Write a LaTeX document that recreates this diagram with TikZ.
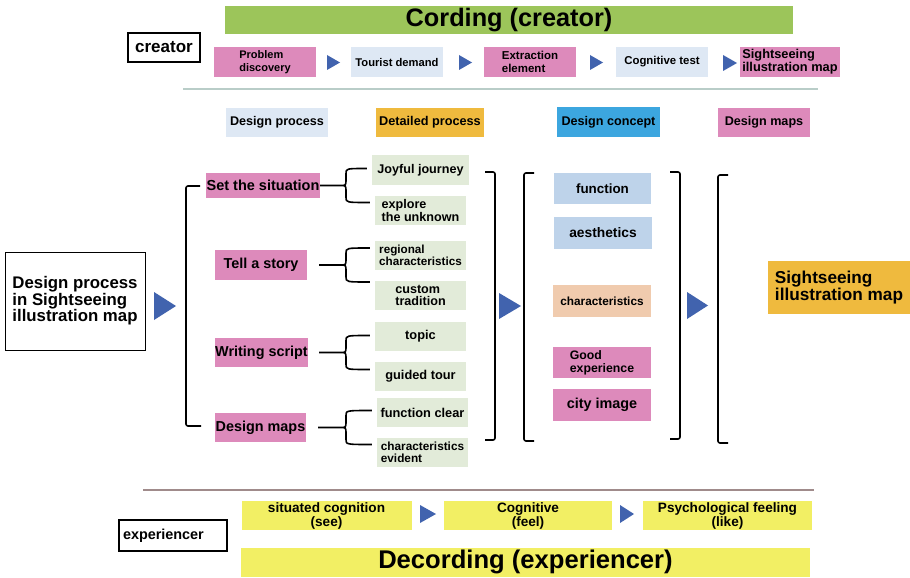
\documentclass[tikz,border=0pt]{standalone}
\usepackage{fontspec}
\setmainfont{Liberation Sans}
\usetikzlibrary{calc}
\definecolor{pinkc}{HTML}{DD8ABB}
\definecolor{lblue}{HTML}{DEE8F4}
\definecolor{orangec}{HTML}{EFBA3E}
\definecolor{cblue}{HTML}{3CA6DF}
\definecolor{pgreen}{HTML}{E2EBD9}
\definecolor{pblue}{HTML}{BED3EA}
\definecolor{peach}{HTML}{F0CBAE}
\definecolor{yellowc}{HTML}{F2EF64}
\definecolor{greenc}{HTML}{9CC55A}
\definecolor{arrowc}{HTML}{4163AE}
\definecolor{lineA}{HTML}{B9CDC8}
\definecolor{lineB}{HTML}{A08B8B}
\tikzset{
  box/.style={inner sep=0pt, align=center, font=\bfseries},
  sz/.style 2 args={minimum width=#1pt, minimum height=#2pt},
  fs/.style 2 args={font=\bfseries\fontsize{#1}{#2}\selectfont},
  pinkbox/.style={box, fill=pinkc},
  lbluebox/.style={box, fill=lblue},
  greenbox/.style={box, fill=pgreen},
  pbluebox/.style={box, fill=pblue},
  yelbox/.style={box, fill=yellowc},
  framebox/.style={box, draw=black, line width=1.2pt, fill=white},
  tri/.style={fill=arrowc},
  bk/.style={draw=black, line width=1.6pt, rounded corners=2pt},
  bracestyle/.style={draw=black, line width=1.6pt},
}
\newcommand{\bracelink}[4]{%
  \draw[bracestyle] let \p1=(#1.east), \p2=(#2.west), \p3=(#3.west) in
    (\x1+#4pt,\y1) -- (340pt,\y1)
    .. controls (346pt,\y1) and (346pt,\y1) .. (346pt,\y1+6pt)
    -- (346pt,\y1+12pt) .. controls (346pt,\y1+17pt) and (346pt,\y1+17pt) .. (\x2-5pt,\y1+17pt)
    (340pt,\y1) .. controls (346pt,\y1) and (346pt,\y1) .. (346pt,\y1-6pt)
    -- (346pt,\y1-12pt) .. controls (346pt,\y1-17pt) and (346pt,\y1-17pt) .. (\x3-5pt,\y1-17pt);
}
\begin{document}
\begin{tikzpicture}[x=1pt, y=-1pt]
\useasboundingbox (0,0) rectangle (910,578);
\fill[white] (0,0) rectangle (910,578);

% ---------- creator part ----------
\node[box, fill=greenc, sz={568}{28}, fs={25.3}{28}] (cording) at (509,20) {Cording (creator)};
\node[framebox, sz={72}{29}, fs={17}{19}] (creator) at (164,47.5) {creator};

\node[pinkbox, sz={102}{30}, fs={11}{12.5}, align=left] (pd) at (265,62) {Problem\\discovery};
\node[lbluebox, sz={92}{30}, fs={11.2}{12.5}] (td) at (397,62) {Tourist demand};
\node[pinkbox, sz={92}{30}, fs={11.5}{12.5}, align=left] (ee) at (530,62) {Extraction\\element};
\node[lbluebox, sz={92}{30}, fs={11.4}{12.5}] (ct) at (662,62) {Cognitive test};
\node[pinkbox, sz={100}{30}, fs={12.8}{13}, align=left] (sim1) at (790,62) {Sightseeing\\illustration map};

\fill[tri] (327,55) -- (340,62.5) -- (327,70) -- cycle;
\fill[tri] (459,55) -- (472,62.5) -- (459,70) -- cycle;
\fill[tri] (590,55) -- (603,62.5) -- (590,70) -- cycle;
\fill[tri] (723,55) -- (737,63) -- (723,71) -- cycle;

\draw[lineA, line width=1.5pt] (183,89) -- (818,89);

% ---------- headers ----------
\node[lbluebox, sz={102}{29}, fs={12.6}{14}] (hdp) at (277,122) {Design process};
\node[box, fill=orangec, sz={108}{29}, fs={12.7}{14}] (hdet) at (430,122) {Detailed process};
\node[box, fill=cblue, sz={103}{30}, fs={12.6}{14}] (hcon) at (608.5,122) {Design concept};
\node[pinkbox, sz={92}{29}, fs={12.6}{14}] (hmap) at (764,122) {Design maps};

% ---------- left box ----------
\node[box, draw=black, line width=1pt, sz={140}{98}, fs={16.8}{16.5}, align=left] (left) at (75,301)
  {Design process\\in Sightseeing\\illustration map};
\fill[tri] (154,292) -- (176,306) -- (154,320) -- cycle;

% ---------- design process ----------
\node[pinkbox, sz={114}{25}, fs={14.5}{16}] (sts) at (263,185.5) {Set the situation};
\node[pinkbox, sz={92}{30}, fs={14.4}{16}] (tas) at (261,265) {Tell a story};
\node[pinkbox, sz={93}{29}, fs={14.4}{16}] (ws) at (261.5,352.5) {Writing script};
\node[pinkbox, sz={91}{29}, fs={14.4}{16}] (dm) at (260.5,427.5) {Design maps};

\draw[bk] (200,186) -- (186,186) -- (186,426) -- (201,426);

% ---------- detailed process ----------
\node[greenbox, sz={97}{30}, fs={12.6}{14}] (jj) at (420.5,170) {Joyful journey};
\node[greenbox, sz={91}{29}, fs={12.6}{12.5}, align=left] (etu) at (420.5,210.5) {explore\\the unknown};
\node[greenbox, sz={91}{29}, fs={11.7}{12}, align=left] (rc) at (420.5,255.5) {regional\\characteristics};
\node[greenbox, sz={91}{29}, fs={12.6}{12.5}, align=left] (cust) at (420.5,295.5) {custom\\tradition};
\node[greenbox, sz={91}{29}, fs={12.8}{14}] (topic) at (420.5,336.5) {topic};
\node[greenbox, sz={91}{29}, fs={12.8}{14}] (gt) at (420.5,376.5) {guided tour};
\node[greenbox, sz={91}{29}, fs={12.8}{14}] (fc) at (422.5,412.5) {function clear};
\node[greenbox, sz={91}{29}, fs={11.8}{12}, align=left] (ce) at (422.5,452.5) {characteristics\\evident};

\bracelink{sts}{jj}{etu}{0}
\bracelink{tas}{rc}{cust}{12}
\bracelink{ws}{topic}{gt}{11}
\bracelink{dm}{fc}{ce}{12}

\draw[bk] (485,172) -- (495,172) -- (495,440) -- (485,440);
\fill[tri] (499,293) -- (521,306) -- (499,319) -- cycle;
\draw[bk] (534,173) -- (524,173) -- (524,441) -- (534,441);

% ---------- design concept ----------
\node[pbluebox, sz={97}{31}, fs={13.4}{15}] (func) at (602.5,188.5) {function};
\node[pbluebox, sz={98}{32}, fs={13.8}{15}] (aes) at (603,233) {aesthetics};
\node[box, fill=peach, sz={98}{32}, fs={11.8}{13}] (chars) at (602,301) {characteristics};
\node[pinkbox, sz={98}{31}, fs={12.3}{13}, align=left] (good) at (602,362.5) {Good\\experience};
\node[pinkbox, sz={98}{32}, fs={14.4}{16}] (city) at (602,405) {city image};

\draw[bk] (670,172) -- (680,172) -- (680,439) -- (670,439);
\fill[tri] (687,292) -- (708,305.5) -- (687,319) -- cycle;
\draw[bk] (728,175) -- (718,175) -- (718,443) -- (728,443);

\node[box, fill=orangec, sz={142}{53}, fs={17.2}{17.5}, align=left] (simbig) at (839,287.5) {Sightseeing\\illustration map};

% ---------- experiencer part ----------
\draw[lineB, line width=2pt] (143,490) -- (814,490);

\node[yelbox, sz={170}{29}, fs={13.6}{14}] (y1) at (326.5,515.5) {situated cognition\\(see)};
\node[yelbox, sz={168}{29}, fs={13.6}{14}] (y2) at (528,515.5) {Cognitive\\(feel)};
\node[yelbox, sz={169}{29}, fs={13.6}{14}] (y3) at (727.5,515.5) {Psychological feeling\\(like)};
\fill[tri] (420,505) -- (436,514) -- (420,523) -- cycle;
\fill[tri] (620,505) -- (634,514) -- (620,523) -- cycle;

\node[framebox, minimum height=31pt, text width=100pt, inner sep=4pt, fs={14.4}{16}, align=left] (exp) at (173,535.5) {experiencer};

\node[yelbox, sz={569}{29}, fs={25.6}{28}] (decording) at (525.5,562) {Decording (experiencer)};
\end{tikzpicture}
\end{document}
